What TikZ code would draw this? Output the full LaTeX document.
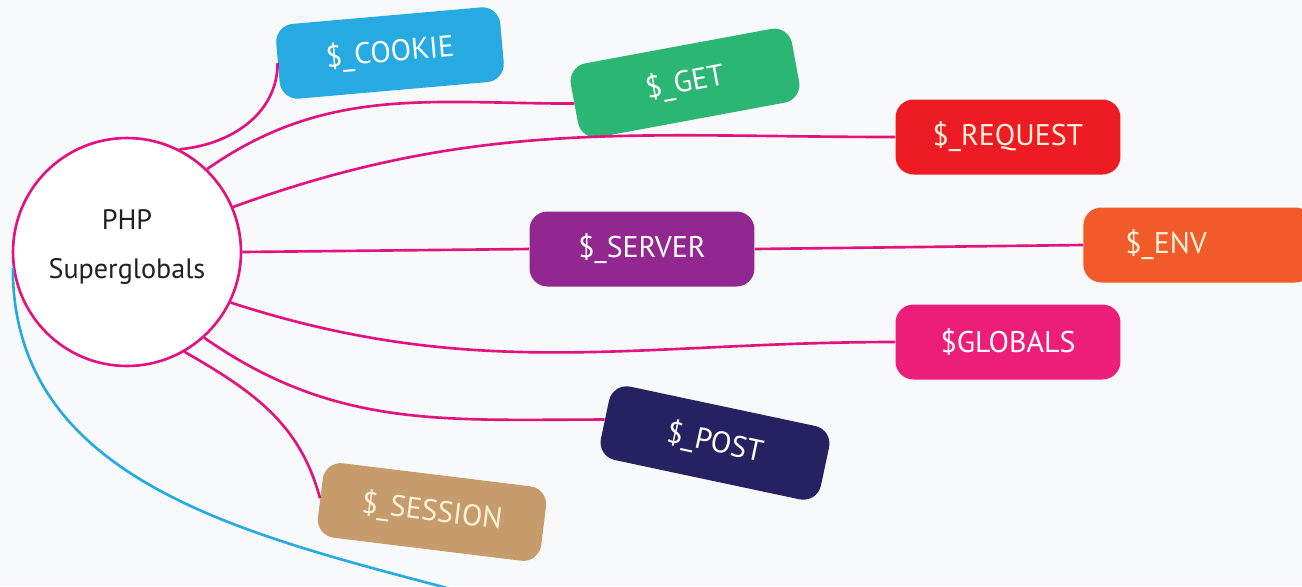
\documentclass[tikz,border=0pt]{standalone}
\usepackage{fontspec}
\setmainfont{PT Sans}
\usepackage{tikz}

\definecolor{canvas}{HTML}{F8F9FA}
\definecolor{linkpink}{HTML}{E2127F}
\definecolor{hubtext}{HTML}{231F20}
\definecolor{cookieblue}{HTML}{27AAE1}
\definecolor{getgreen}{HTML}{2BB673}
\definecolor{requestred}{HTML}{ED1C24}
\definecolor{serverpurple}{HTML}{92278F}
\definecolor{envorange}{HTML}{F15A29}
\definecolor{globalspink}{HTML}{ED1E79}
\definecolor{postnavy}{HTML}{262262}
\definecolor{sessiontan}{HTML}{C69C6D}
\definecolor{cream}{HTML}{FFF2D9}

\begin{document}
\begin{tikzpicture}[x=0.02cm, y=0.02cm]
    \tikzstyle{every node}+=[inner sep=0pt]
    \tikzstyle{tag}=[rectangle, rounded corners=0.36cm, minimum width=4.5cm, minimum height=1.5cm, text=white, font=\fontsize{17}{20}\selectfont]
    \tikzstyle{hub}=[circle, draw=linkpink, line width=1.5pt, fill=white, minimum size=4.56cm, align=center, text=hubtext, text depth=9pt, font=\fontsize{16}{28}\selectfont]
    \tikzstyle{link}=[draw=linkpink, line width=1.5pt]
    \useasboundingbox (0,0) rectangle (1302,-586);
    \fill [canvas] (0,0) rectangle (1302,-586);
    \node [hub] (php) at (127,-252) {PHP\\Superglobals};
    \node [tag, fill=cookieblue, rotate=5] (cookie) at (390,-53) {\$\_COOKIE};
    \node [tag, fill=getgreen, rotate=10.5] (get) at (685,-83) {\$\_GET};
    \node [tag, fill=requestred, text=cream] (request) at (1008,-137) {\$\_REQUEST};
    \node [tag, fill=serverpurple] (server) at (642,-249) {\$\_SERVER};
    \node [tag, fill=envorange, text=cream, text width=4.6cm, align=left] (env) at (1083,-245) [anchor=west] {\hspace*{0.84cm}\$\_ENV};
    \node [tag, fill=globalspink] (globals) at (1008,-342) {\$GLOBALS};
    \node [tag, fill=postnavy, rotate=-12] (post) at (715,-443) {\$\_POST};
    \node [tag, fill=sessiontan, text=cream, rotate=-7] (session) at (432,-512) {\$\_SESSION};
    \coordinate (tail) at (462,-592);
    \draw [link] (php.63) to [out=5, in=-90] (cookie.west);
    \draw [link] (php.46) to [out=35, in=180] (get.west);
    \draw [link] (php.23) to [out=20, in=180] (request.west);
    \draw [link] (php.east) -- (server.west);
    \draw [link] (server.east) -- (env.west);
    \draw [link] (php.-26) to [out=-18, in=180] (globals.west);
    \draw [link] (php.-48) to [out=-35, in=180] (post.west);
    \draw [link] (php.-60) to [out=-30, in=105] (session.west);
    \draw [draw=cookieblue, line width=1.5pt] (php.188) to [out=-90, in=165] (tail);
\end{tikzpicture}
\end{document}
